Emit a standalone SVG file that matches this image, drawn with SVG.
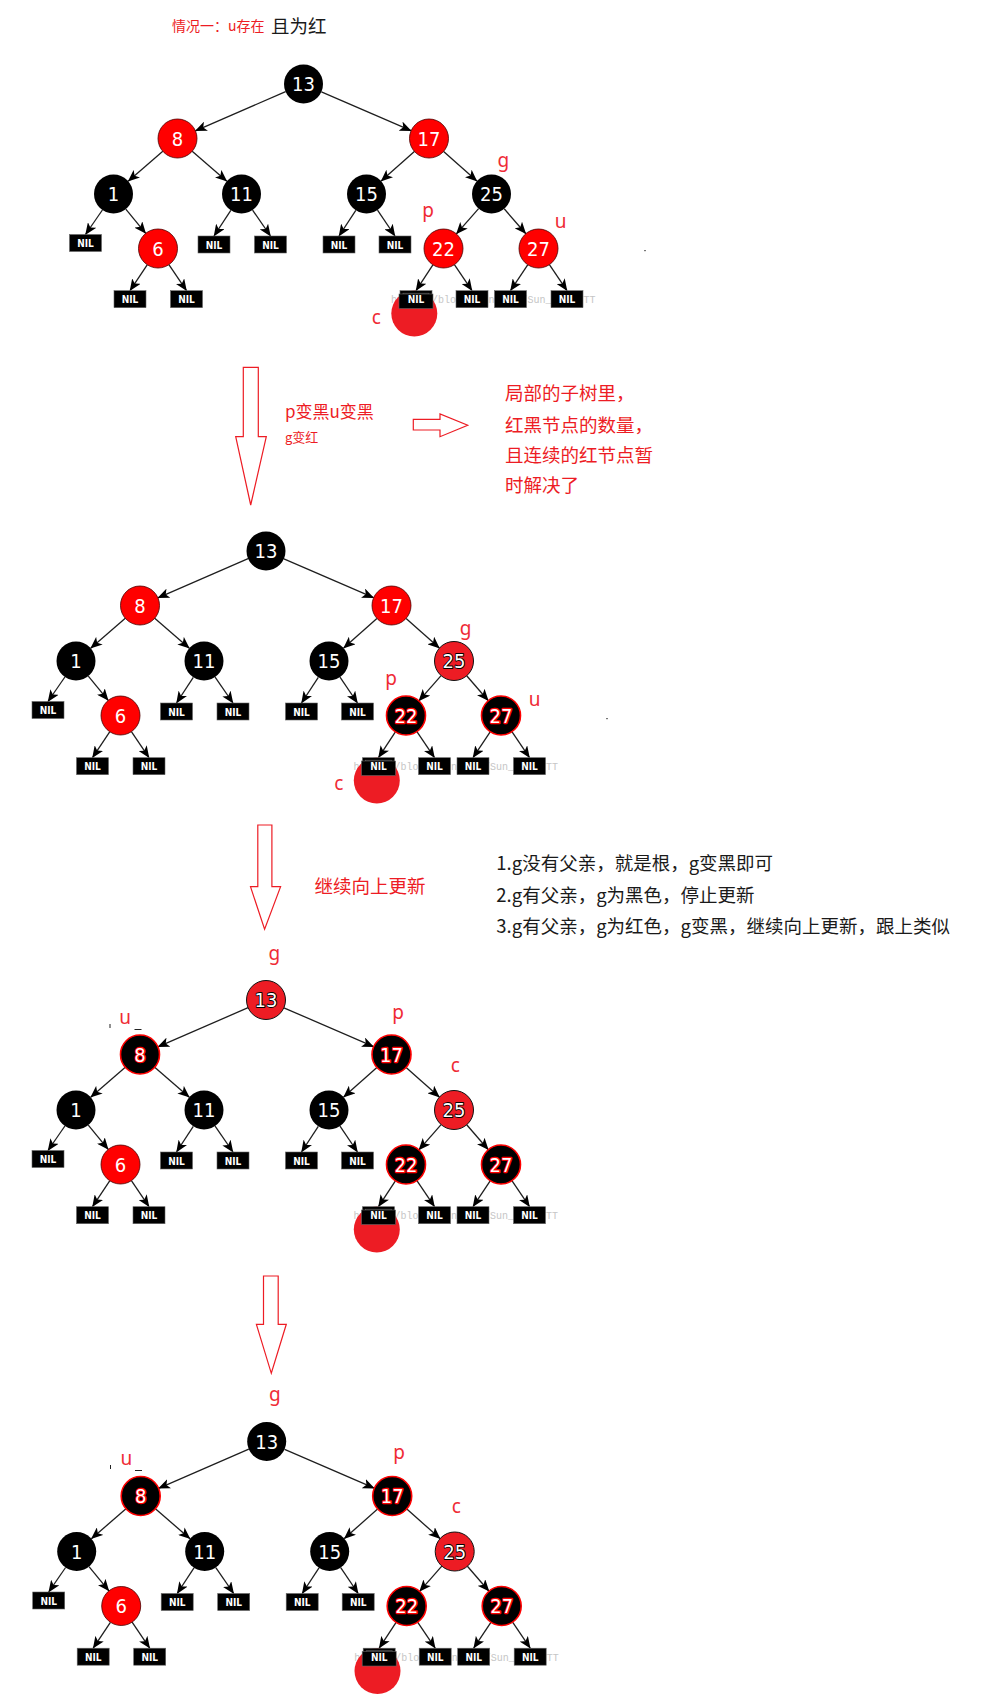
<svg xmlns="http://www.w3.org/2000/svg" width="983" height="1699" viewBox="0 0 983 1699">
<style>
.bg{fill:#fff}
.e line{stroke:#1e1e1e;stroke-width:1.3;marker-end:url(#ah)}
.v text{font-family:"DejaVu Sans Condensed","DejaVu Sans",sans-serif;font-size:20px;text-anchor:middle}
.nb circle{fill:#000}.nb text{fill:#fff}
.nr circle{fill:#f00;stroke:#4a0000;stroke-width:.8}.nr text{fill:#fff}
.ng circle{fill:#ed1c24;stroke:#111;stroke-width:1}.ng text{fill:#fff;stroke:#000;stroke-width:1.8;paint-order:stroke;stroke-linejoin:round}
.nk circle{fill:#000;stroke:#f00;stroke-width:1.6}.nk text{fill:#fff;stroke:#f00;stroke-width:2.4;paint-order:stroke;stroke-linejoin:round}
.nil rect{fill:#000;stroke:#666;stroke-width:.6}
.nil text{fill:#fff;font-family:"DejaVu Sans Condensed","DejaVu Sans",sans-serif;font-weight:bold;font-size:10px;text-anchor:middle}
.wm text{fill:#c6c6c6;font-family:"Liberation Mono",monospace;font-size:10px}
.blob{fill:#ed1c24}
.lbl{fill:#ef2b36;font-family:"Noto Sans","Noto Sans CJK SC",sans-serif;font-size:19px;text-anchor:middle}
.cn{font-family:"Noto Sans CJK SC",sans-serif}
.red{fill:#ed1c24}
.blk{fill:#1a1a1a}
.big{fill:#fff;stroke:#ed1c24;stroke-width:1.2}
</style>
<defs>
<marker id="ah" viewBox="0 0 12 10" refX="11.5" refY="5" markerWidth="12" markerHeight="10" orient="auto" markerUnits="userSpaceOnUse"><path d="M0,0 L12,5 L0,10 L3,5 z" fill="#000"/></marker>
</defs>
<rect class="bg" x="0" y="0" width="983" height="1699"/>

<!-- header texts -->
<g id="title">
<text class="cn red" x="172" y="31" font-size="14">情况一：u存在</text>
<text class="cn blk" x="271" y="33" font-size="18.5">且为红</text>
</g>

<!-- ============ TREE 1 ============ -->
<g id="tree1" transform="translate(303.5,84)">
<g class="wm"><text x="87.5" y="219">ht</text><text x="128.5" y="219">/blog</text><text x="179" y="219">dn.</text><text x="218" y="219">/Sun_</text><text x="274" y="219">TTT</text></g>
<circle class="blob" cx="110.8" cy="229.5" r="23"/>
<g class="e" id="t1-edges">
<line x1="-17.9" y1="7.7" x2="-108.1" y2="46.8"/>
<line x1="17.9" y1="7.8" x2="107.6" y2="46.7"/>
<line x1="-140.7" y1="67.3" x2="-175.3" y2="97.2"/>
<line x1="-111.3" y1="67.3" x2="-76.7" y2="97.2"/>
<line x1="110.9" y1="67.5" x2="77.6" y2="97.1"/>
<line x1="140.1" y1="67.5" x2="173.4" y2="97.1"/>
<line x1="-201.1" y1="126" x2="-218" y2="150.5"/>
<line x1="-177.7" y1="125.1" x2="-157.8" y2="149.4"/>
<line x1="-72.7" y1="126.3" x2="-89.5" y2="152"/>
<line x1="-50.9" y1="126.1" x2="-33" y2="152"/>
<line x1="52.3" y1="126.3" x2="35.5" y2="152"/>
<line x1="74" y1="126.1" x2="91.5" y2="152"/>
<line x1="175.1" y1="124.6" x2="152.9" y2="149.9"/>
<line x1="200.7" y1="124.8" x2="222.3" y2="149.7"/>
<line x1="-156.3" y1="180.8" x2="-173.5" y2="206.7"/>
<line x1="-134.6" y1="180.7" x2="-117" y2="206.7"/>
<line x1="129.4" y1="180.8" x2="112.5" y2="206.7"/>
<line x1="150.9" y1="180.7" x2="168.5" y2="206.7"/>
<line x1="224.2" y1="180.8" x2="207" y2="206.7"/>
<line x1="245.9" y1="180.7" x2="263.5" y2="206.7"/>
</g>
<g id="t1-13" class="v nb"><circle cx="0" cy="0" r="19.5"/><text x="0" y="7">13</text></g>
<g id="t1-8" class="v nr"><circle cx="-126" cy="54.5" r="19.5"/><text x="-126" y="61.5">8</text></g>
<g id="t1-17" class="v nr"><circle cx="125.5" cy="54.5" r="19.5"/><text x="125.5" y="61.5">17</text></g>
<g id="t1-1" class="v nb"><circle cx="-190" cy="110" r="19.5"/><text x="-190" y="117">1</text></g>
<g id="t1-11" class="v nb"><circle cx="-62" cy="110" r="19.5"/><text x="-62" y="117">11</text></g>
<g id="t1-15" class="v nb"><circle cx="63" cy="110" r="19.5"/><text x="63" y="117">15</text></g>
<g id="t1-25" class="v nb"><circle cx="188" cy="110" r="19.5"/><text x="188" y="117">25</text></g>
<g id="t1-6" class="v nr"><circle cx="-145.5" cy="164.5" r="19.5"/><text x="-145.5" y="171.5">6</text></g>
<g id="t1-22" class="v nr"><circle cx="140" cy="164.5" r="19.5"/><text x="140" y="171.5">22</text></g>
<g id="t1-27" class="v nr"><circle cx="235" cy="164.5" r="19.5"/><text x="235" y="171.5">27</text></g>
<g id="t1-nil1" class="nil"><rect x="-234" y="150.5" width="32" height="17"/><text x="-218" y="163">NIL</text></g>
<g id="t1-nil2" class="nil"><rect x="-105.5" y="152" width="32" height="17"/><text x="-89.5" y="164.5">NIL</text></g>
<g id="t1-nil3" class="nil"><rect x="-49" y="152" width="32" height="17"/><text x="-33" y="164.5">NIL</text></g>
<g id="t1-nil4" class="nil"><rect x="19.5" y="152" width="32" height="17"/><text x="35.5" y="164.5">NIL</text></g>
<g id="t1-nil5" class="nil"><rect x="75.5" y="152" width="32" height="17"/><text x="91.5" y="164.5">NIL</text></g>
<g id="t1-nil6" class="nil"><rect x="-189.5" y="206.7" width="32" height="17"/><text x="-173.5" y="219.2">NIL</text></g>
<g id="t1-nil7" class="nil"><rect x="-133" y="206.7" width="32" height="17"/><text x="-117" y="219.2">NIL</text></g>
<g id="t1-nil8" class="nil"><rect x="96.5" y="206.7" width="32" height="17"/><rect x="99.5" y="209.2" width="26" height="12" fill="none" stroke="#fff" stroke-width="1"/><rect x="95.5" y="210" width="34" height="14.5" fill="none" stroke="#5a0a0a" stroke-width=".8"/><text x="112.5" y="219.2">NIL</text></g>
<g id="t1-nil9" class="nil"><rect x="152.5" y="206.7" width="32" height="17"/><text x="168.5" y="219.2">NIL</text></g>
<g id="t1-nil10" class="nil"><rect x="191" y="206.7" width="32" height="17"/><text x="207" y="219.2">NIL</text></g>
<g id="t1-nil11" class="nil"><rect x="247.5" y="206.7" width="32" height="17"/><text x="263.5" y="219.2">NIL</text></g>
</g>
<g id="t1-labels">
<text class="lbl" x="503.3" y="167">g</text>
<text class="lbl" x="428" y="217">p</text>
<text class="lbl" x="560.5" y="228">u</text>
<text class="lbl" x="376.3" y="324">c</text>
<rect x="644" y="250" width="2" height="1.2" fill="#777"/>
</g>

<!-- arrow 1 + notes -->
<g id="arrow1"><polygon class="big" points="243.3,367.3 258.3,367.3 258.3,436.7 266.3,436.7 250.7,505 235.7,436.7 243.3,436.7"/></g>
<g id="step1-text">
<text class="cn red" x="285" y="418" font-size="17">p变黑u变黑</text>
<text class="cn red" x="285" y="441.5" font-size="13">g变红</text>
</g>
<g id="arrow-right"><polygon class="big" points="413.3,419.3 440,419.3 440,414 467.7,425.3 440,436.7 440,430 413.3,430"/></g>
<g id="note1" class="cn red" font-size="18.5">
<text x="505" y="400">局部的子树里，</text>
<text x="505" y="431.5">红黑节点的数量，</text>
<text x="505" y="461.5">且连续的红节点暂</text>
<text x="505" y="491.5">时解决了</text>
</g>

<!-- ============ TREE 2 ============ -->
<g id="tree2" transform="translate(266,551)">
<g class="wm"><text x="87.5" y="219">ht</text><text x="128.5" y="219">/blog</text><text x="179" y="219">dn.</text><text x="218" y="219">/Sun_</text><text x="274" y="219">TTT</text></g>
<circle class="blob" cx="110.8" cy="229.5" r="23"/>
<g class="e" id="t2-edges">
<line x1="-17.9" y1="7.7" x2="-108.1" y2="46.8"/>
<line x1="17.9" y1="7.8" x2="107.6" y2="46.7"/>
<line x1="-140.7" y1="67.3" x2="-175.3" y2="97.2"/>
<line x1="-111.3" y1="67.3" x2="-76.7" y2="97.2"/>
<line x1="110.9" y1="67.5" x2="77.6" y2="97.1"/>
<line x1="140.1" y1="67.5" x2="173.4" y2="97.1"/>
<line x1="-201.1" y1="126" x2="-218" y2="150.5"/>
<line x1="-177.7" y1="125.1" x2="-157.8" y2="149.4"/>
<line x1="-72.7" y1="126.3" x2="-89.5" y2="152"/>
<line x1="-50.9" y1="126.1" x2="-33" y2="152"/>
<line x1="52.3" y1="126.3" x2="35.5" y2="152"/>
<line x1="74" y1="126.1" x2="91.5" y2="152"/>
<line x1="175.1" y1="124.6" x2="152.9" y2="149.9"/>
<line x1="200.7" y1="124.8" x2="222.3" y2="149.7"/>
<line x1="-156.3" y1="180.8" x2="-173.5" y2="206.7"/>
<line x1="-134.6" y1="180.7" x2="-117" y2="206.7"/>
<line x1="129.4" y1="180.8" x2="112.5" y2="206.7"/>
<line x1="150.9" y1="180.7" x2="168.5" y2="206.7"/>
<line x1="224.2" y1="180.8" x2="207" y2="206.7"/>
<line x1="245.9" y1="180.7" x2="263.5" y2="206.7"/>
</g>
<g id="t2-13" class="v nb"><circle cx="0" cy="0" r="19.5"/><text x="0" y="7">13</text></g>
<g id="t2-8" class="v nr"><circle cx="-126" cy="54.5" r="19.5"/><text x="-126" y="61.5">8</text></g>
<g id="t2-17" class="v nr"><circle cx="125.5" cy="54.5" r="19.5"/><text x="125.5" y="61.5">17</text></g>
<g id="t2-1" class="v nb"><circle cx="-190" cy="110" r="19.5"/><text x="-190" y="117">1</text></g>
<g id="t2-11" class="v nb"><circle cx="-62" cy="110" r="19.5"/><text x="-62" y="117">11</text></g>
<g id="t2-15" class="v nb"><circle cx="63" cy="110" r="19.5"/><text x="63" y="117">15</text></g>
<g id="t2-25" class="v ng"><circle cx="188" cy="110" r="19.5"/><text x="188" y="117">25</text></g>
<g id="t2-6" class="v nr"><circle cx="-145.5" cy="164.5" r="19.5"/><text x="-145.5" y="171.5">6</text></g>
<g id="t2-22" class="v nk"><circle cx="140" cy="164.5" r="19.5"/><text x="140" y="171.5">22</text></g>
<g id="t2-27" class="v nk"><circle cx="235" cy="164.5" r="19.5"/><text x="235" y="171.5">27</text></g>
<g id="t2-nil1" class="nil"><rect x="-234" y="150.5" width="32" height="17"/><text x="-218" y="163">NIL</text></g>
<g id="t2-nil2" class="nil"><rect x="-105.5" y="152" width="32" height="17"/><text x="-89.5" y="164.5">NIL</text></g>
<g id="t2-nil3" class="nil"><rect x="-49" y="152" width="32" height="17"/><text x="-33" y="164.5">NIL</text></g>
<g id="t2-nil4" class="nil"><rect x="19.5" y="152" width="32" height="17"/><text x="35.5" y="164.5">NIL</text></g>
<g id="t2-nil5" class="nil"><rect x="75.5" y="152" width="32" height="17"/><text x="91.5" y="164.5">NIL</text></g>
<g id="t2-nil6" class="nil"><rect x="-189.5" y="206.7" width="32" height="17"/><text x="-173.5" y="219.2">NIL</text></g>
<g id="t2-nil7" class="nil"><rect x="-133" y="206.7" width="32" height="17"/><text x="-117" y="219.2">NIL</text></g>
<g id="t2-nil8" class="nil"><rect x="96.5" y="206.7" width="32" height="17"/><rect x="99.5" y="209.2" width="26" height="12" fill="none" stroke="#fff" stroke-width="1"/><rect x="95.5" y="210" width="34" height="14.5" fill="none" stroke="#5a0a0a" stroke-width=".8"/><text x="112.5" y="219.2">NIL</text></g>
<g id="t2-nil9" class="nil"><rect x="152.5" y="206.7" width="32" height="17"/><text x="168.5" y="219.2">NIL</text></g>
<g id="t2-nil10" class="nil"><rect x="191" y="206.7" width="32" height="17"/><text x="207" y="219.2">NIL</text></g>
<g id="t2-nil11" class="nil"><rect x="247.5" y="206.7" width="32" height="17"/><text x="263.5" y="219.2">NIL</text></g>
</g>
<g id="t2-labels">
<text class="lbl" x="465.7" y="635">g</text>
<text class="lbl" x="391.1" y="685">p</text>
<text class="lbl" x="534.6" y="705.5">u</text>
<text class="lbl" x="338.7" y="790">c</text>
<rect x="606" y="718" width="2" height="1.2" fill="#777"/>
</g>

<!-- arrow 2 + notes -->
<g id="arrow2"><polygon class="big" points="257.8,825 271.9,825 271.9,886.7 280.6,886.7 264.6,929.3 250.5,886.7 257.8,886.7"/></g>
<g id="step2-text"><text class="cn red" x="314.5" y="892.5" font-size="18.5">继续向上更新</text></g>
<g id="note2" class="cn blk" font-size="18.5">
<text x="496.3" y="869.5">1.g没有父亲，就是根，g变黑即可</text>
<text x="496.3" y="901.5">2.g有父亲，g为黑色，停止更新</text>
<text x="496.3" y="933">3.g有父亲，g为红色，g变黑，继续向上更新，跟上类似</text>
</g>

<!-- ============ TREE 3 ============ -->
<g id="tree3" transform="translate(266,1000)">
<g class="wm"><text x="87.5" y="219">ht</text><text x="128.5" y="219">/blog</text><text x="179" y="219">dn.</text><text x="218" y="219">/Sun_</text><text x="274" y="219">TTT</text></g>
<circle class="blob" cx="110.8" cy="229.5" r="23"/>
<g class="e" id="t3-edges">
<line x1="-17.9" y1="7.7" x2="-108.1" y2="46.8"/>
<line x1="17.9" y1="7.8" x2="107.6" y2="46.7"/>
<line x1="-140.7" y1="67.3" x2="-175.3" y2="97.2"/>
<line x1="-111.3" y1="67.3" x2="-76.7" y2="97.2"/>
<line x1="110.9" y1="67.5" x2="77.6" y2="97.1"/>
<line x1="140.1" y1="67.5" x2="173.4" y2="97.1"/>
<line x1="-201.1" y1="126" x2="-218" y2="150.5"/>
<line x1="-177.7" y1="125.1" x2="-157.8" y2="149.4"/>
<line x1="-72.7" y1="126.3" x2="-89.5" y2="152"/>
<line x1="-50.9" y1="126.1" x2="-33" y2="152"/>
<line x1="52.3" y1="126.3" x2="35.5" y2="152"/>
<line x1="74" y1="126.1" x2="91.5" y2="152"/>
<line x1="175.1" y1="124.6" x2="152.9" y2="149.9"/>
<line x1="200.7" y1="124.8" x2="222.3" y2="149.7"/>
<line x1="-156.3" y1="180.8" x2="-173.5" y2="206.7"/>
<line x1="-134.6" y1="180.7" x2="-117" y2="206.7"/>
<line x1="129.4" y1="180.8" x2="112.5" y2="206.7"/>
<line x1="150.9" y1="180.7" x2="168.5" y2="206.7"/>
<line x1="224.2" y1="180.8" x2="207" y2="206.7"/>
<line x1="245.9" y1="180.7" x2="263.5" y2="206.7"/>
</g>
<g id="t3-13" class="v ng"><circle cx="0" cy="0" r="19.5"/><text x="0" y="7">13</text></g>
<g id="t3-8" class="v nk"><circle cx="-126" cy="54.5" r="19.5"/><text x="-126" y="61.5">8</text></g>
<g id="t3-17" class="v nk"><circle cx="125.5" cy="54.5" r="19.5"/><text x="125.5" y="61.5">17</text></g>
<g id="t3-1" class="v nb"><circle cx="-190" cy="110" r="19.5"/><text x="-190" y="117">1</text></g>
<g id="t3-11" class="v nb"><circle cx="-62" cy="110" r="19.5"/><text x="-62" y="117">11</text></g>
<g id="t3-15" class="v nb"><circle cx="63" cy="110" r="19.5"/><rect x="55.5" y="92.5" width="8" height="8" fill="#000"/><text x="63" y="117">15</text></g>
<g id="t3-25" class="v ng"><circle cx="188" cy="110" r="19.5"/><text x="188" y="117">25</text></g>
<g id="t3-6" class="v nr"><circle cx="-145.5" cy="164.5" r="19.5"/><text x="-145.5" y="171.5">6</text></g>
<g id="t3-22" class="v nk"><circle cx="140" cy="164.5" r="19.5"/><text x="140" y="171.5">22</text></g>
<g id="t3-27" class="v nk"><circle cx="235" cy="164.5" r="19.5"/><text x="235" y="171.5">27</text></g>
<g id="t3-nil1" class="nil"><rect x="-234" y="150.5" width="32" height="17"/><text x="-218" y="163">NIL</text></g>
<g id="t3-nil2" class="nil"><rect x="-105.5" y="152" width="32" height="17"/><text x="-89.5" y="164.5">NIL</text></g>
<g id="t3-nil3" class="nil"><rect x="-49" y="152" width="32" height="17"/><text x="-33" y="164.5">NIL</text></g>
<g id="t3-nil4" class="nil"><rect x="19.5" y="152" width="32" height="17"/><text x="35.5" y="164.5">NIL</text></g>
<g id="t3-nil5" class="nil"><rect x="75.5" y="152" width="32" height="17"/><text x="91.5" y="164.5">NIL</text></g>
<g id="t3-nil6" class="nil"><rect x="-189.5" y="206.7" width="32" height="17"/><text x="-173.5" y="219.2">NIL</text></g>
<g id="t3-nil7" class="nil"><rect x="-133" y="206.7" width="32" height="17"/><text x="-117" y="219.2">NIL</text></g>
<g id="t3-nil8" class="nil"><rect x="96.5" y="206.7" width="32" height="17"/><rect x="99.5" y="209.2" width="26" height="12" fill="none" stroke="#fff" stroke-width="1"/><rect x="95.5" y="210" width="34" height="14.5" fill="none" stroke="#5a0a0a" stroke-width=".8"/><text x="112.5" y="219.2">NIL</text></g>
<g id="t3-nil9" class="nil"><rect x="152.5" y="206.7" width="32" height="17"/><text x="168.5" y="219.2">NIL</text></g>
<g id="t3-nil10" class="nil"><rect x="191" y="206.7" width="32" height="17"/><text x="207" y="219.2">NIL</text></g>
<g id="t3-nil11" class="nil"><rect x="247.5" y="206.7" width="32" height="17"/><text x="263.5" y="219.2">NIL</text></g>
</g>
<g id="t3-labels">
<text class="lbl" x="274.4" y="960">g</text>
<text class="lbl" x="125.1" y="1024">u</text>
<text class="lbl" x="398" y="1018.5">p</text>
<text class="lbl" x="455.4" y="1072">c</text>
<rect x="109.5" y="1024" width="1" height="4" fill="#222"/>
<rect x="134.5" y="1029" width="7" height="1" fill="#222"/>
</g>

<!-- arrow 3 -->
<g id="arrow3"><polygon class="big" points="263.5,1276 278.2,1276 278.2,1324.3 286.3,1324.3 271.3,1373.3 256.4,1324.3 263.5,1324.3"/></g>

<!-- ============ TREE 4 ============ -->
<g id="tree4" transform="translate(266.7,1441.5)">
<g class="wm"><text x="87.5" y="219">ht</text><text x="128.5" y="219">/blog</text><text x="179" y="219">dn.</text><text x="218" y="219">/Sun_</text><text x="274" y="219">TTT</text></g>
<circle class="blob" cx="110.8" cy="229.5" r="23"/>
<g class="e" id="t4-edges">
<line x1="-17.9" y1="7.7" x2="-108.1" y2="46.8"/>
<line x1="17.9" y1="7.8" x2="107.6" y2="46.7"/>
<line x1="-140.7" y1="67.3" x2="-175.3" y2="97.2"/>
<line x1="-111.3" y1="67.3" x2="-76.7" y2="97.2"/>
<line x1="110.9" y1="67.5" x2="77.6" y2="97.1"/>
<line x1="140.1" y1="67.5" x2="173.4" y2="97.1"/>
<line x1="-201.1" y1="126" x2="-218" y2="150.5"/>
<line x1="-177.7" y1="125.1" x2="-157.8" y2="149.4"/>
<line x1="-72.7" y1="126.3" x2="-89.5" y2="152"/>
<line x1="-50.9" y1="126.1" x2="-33" y2="152"/>
<line x1="52.3" y1="126.3" x2="35.5" y2="152"/>
<line x1="74" y1="126.1" x2="91.5" y2="152"/>
<line x1="175.1" y1="124.6" x2="152.9" y2="149.9"/>
<line x1="200.7" y1="124.8" x2="222.3" y2="149.7"/>
<line x1="-156.3" y1="180.8" x2="-173.5" y2="206.7"/>
<line x1="-134.6" y1="180.7" x2="-117" y2="206.7"/>
<line x1="129.4" y1="180.8" x2="112.5" y2="206.7"/>
<line x1="150.9" y1="180.7" x2="168.5" y2="206.7"/>
<line x1="224.2" y1="180.8" x2="207" y2="206.7"/>
<line x1="245.9" y1="180.7" x2="263.5" y2="206.7"/>
</g>
<g id="t4-13" class="v nb"><circle cx="0" cy="0" r="19.5"/><text x="0" y="7">13</text></g>
<g id="t4-8" class="v nk"><circle cx="-126" cy="54.5" r="19.5"/><text x="-126" y="61.5">8</text></g>
<g id="t4-17" class="v nk"><circle cx="125.5" cy="54.5" r="19.5"/><text x="125.5" y="61.5">17</text></g>
<g id="t4-1" class="v nb"><circle cx="-190" cy="110" r="19.5"/><text x="-190" y="117">1</text></g>
<g id="t4-11" class="v nb"><circle cx="-62" cy="110" r="19.5"/><text x="-62" y="117">11</text></g>
<g id="t4-15" class="v nb"><circle cx="63" cy="110" r="19.5"/><rect x="55.5" y="92.5" width="8" height="8" fill="#000"/><text x="63" y="117">15</text></g>
<g id="t4-25" class="v ng"><circle cx="188" cy="110" r="19.5"/><text x="188" y="117">25</text></g>
<g id="t4-6" class="v nr"><circle cx="-145.5" cy="164.5" r="19.5"/><text x="-145.5" y="171.5">6</text></g>
<g id="t4-22" class="v nk"><circle cx="140" cy="164.5" r="19.5"/><text x="140" y="171.5">22</text></g>
<g id="t4-27" class="v nk"><circle cx="235" cy="164.5" r="19.5"/><text x="235" y="171.5">27</text></g>
<g id="t4-nil1" class="nil"><rect x="-234" y="150.5" width="32" height="17"/><text x="-218" y="163">NIL</text></g>
<g id="t4-nil2" class="nil"><rect x="-105.5" y="152" width="32" height="17"/><text x="-89.5" y="164.5">NIL</text></g>
<g id="t4-nil3" class="nil"><rect x="-49" y="152" width="32" height="17"/><text x="-33" y="164.5">NIL</text></g>
<g id="t4-nil4" class="nil"><rect x="19.5" y="152" width="32" height="17"/><text x="35.5" y="164.5">NIL</text></g>
<g id="t4-nil5" class="nil"><rect x="75.5" y="152" width="32" height="17"/><text x="91.5" y="164.5">NIL</text></g>
<g id="t4-nil6" class="nil"><rect x="-189.5" y="206.7" width="32" height="17"/><text x="-173.5" y="219.2">NIL</text></g>
<g id="t4-nil7" class="nil"><rect x="-133" y="206.7" width="32" height="17"/><text x="-117" y="219.2">NIL</text></g>
<g id="t4-nil8" class="nil"><rect x="96.5" y="206.7" width="32" height="17"/><rect x="99.5" y="209.2" width="26" height="12" fill="none" stroke="#fff" stroke-width="1"/><rect x="95.5" y="210" width="34" height="14.5" fill="none" stroke="#5a0a0a" stroke-width=".8"/><text x="112.5" y="219.2">NIL</text></g>
<g id="t4-nil9" class="nil"><rect x="152.5" y="206.7" width="32" height="17"/><text x="168.5" y="219.2">NIL</text></g>
<g id="t4-nil10" class="nil"><rect x="191" y="206.7" width="32" height="17"/><text x="207" y="219.2">NIL</text></g>
<g id="t4-nil11" class="nil"><rect x="247.5" y="206.7" width="32" height="17"/><text x="263.5" y="219.2">NIL</text></g>
</g>
<g id="t4-labels">
<text class="lbl" x="274.8" y="1401">g</text>
<text class="lbl" x="126.3" y="1465">u</text>
<text class="lbl" x="399.2" y="1459">p</text>
<text class="lbl" x="456.2" y="1513">c</text>
<rect x="110" y="1465" width="1" height="4" fill="#222"/>
<rect x="135" y="1470" width="7" height="1" fill="#222"/>
</g>
</svg>
